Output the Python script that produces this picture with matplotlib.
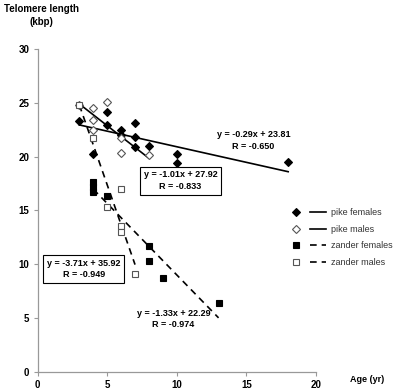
import matplotlib
matplotlib.use("Agg")
import matplotlib.pyplot as plt
from matplotlib.lines import Line2D
from matplotlib.legend_handler import HandlerTuple
import numpy as np

plt.rcParams['font.family'] = ['Liberation Sans Narrow', 'Liberation Sans', 'DejaVu Sans']

# --- data ---
pike_f_x = [3, 4, 5, 5, 6, 6, 7, 7, 7, 8, 10, 10, 18]
pike_f_y = [23.3, 20.2, 24.1, 22.9, 22.5, 22.0, 23.1, 21.8, 20.85, 21.0, 20.2, 19.4, 19.5]

pike_m_x = [3, 4, 4, 4, 5, 6, 6, 8]
pike_m_y = [24.8, 24.5, 23.4, 22.5, 25.1, 21.7, 20.35, 20.1]

zander_f_x = [4, 4, 4, 5, 8, 8, 9, 13]
zander_f_y = [17.6, 17.2, 16.7, 16.3, 11.7, 10.3, 8.7, 6.4]

zander_m_x = [3, 4, 5, 6, 6, 6, 7]
zander_m_y = [24.8, 21.7, 15.3, 17.0, 13.5, 13.0, 9.1]

# regression fits (slope, intercept, R) as printed on the chart
fits = {
    "pike females": (-0.29, 23.81, -0.650),
    "pike males": (-1.01, 27.92, -0.833),
    "zander females": (-1.33, 22.29, -0.974),
    "zander males": (-3.71, 35.92, -0.949),
}

x_ticks = [0, 5, 10, 15, 20]
y_ticks = [0, 5, 10, 15, 20, 25, 30]

groups = [
    ("pike females", pike_f_x, pike_f_y, "D", "black", "-"),
    ("pike males", pike_m_x, pike_m_y, "D", "white", "-"),
    ("zander females", zander_f_x, zander_f_y, "s", "black", (0, (4, 3))),
    ("zander males", zander_m_x, zander_m_y, "s", "white", (0, (4, 3))),
]

fig = plt.figure(figsize=(4.0, 3.92), dpi=100)
ax = fig.add_axes([0.094, 0.052, 0.696, 0.823])

handles = []
for name, xs, ys, mk, fc, ls in groups:
    edge = "black" if fc == "black" else "#555555"
    ms = 3.6 if mk == "D" else 4.6
    ax.plot(xs, ys, linestyle="none", marker=mk, markersize=ms,
            markerfacecolor=fc, markeredgecolor=edge, markeredgewidth=0.8, zorder=3)
    slope, icpt, _ = fits[name]
    lx = np.array([min(xs), max(xs)], dtype=float)
    ax.plot(lx, slope * lx + icpt, color="black", linewidth=1.2, linestyle=ls, zorder=2)
    m = Line2D([], [], linestyle="none", marker=mk, markersize=ms,
               markerfacecolor=fc, markeredgecolor=edge, markeredgewidth=0.8)
    ln = Line2D([], [], color="black", linewidth=1.2, linestyle=ls)
    handles.append((m, ln))


def eq_label(name):
    s, b, r = fits[name]
    return f"y = {s:.2f}x + {b:.2f}\nR = {r:.3f}"


box = dict(boxstyle="square,pad=0.4", facecolor="white", edgecolor="black", linewidth=0.8)
txt = dict(ha="center", va="center", fontsize=6.5, fontweight="bold", linespacing=1.4)
ax.text(15.5, 21.5, eq_label("pike females"), **txt)
ax.text(10.27, 17.75, eq_label("pike males"), bbox=box, zorder=5, **txt)
ax.text(3.32, 9.55, eq_label("zander males"), bbox=box, zorder=5, **txt)
ax.text(9.75, 4.9, eq_label("zander females"), zorder=5, **txt)

ax.set_xlim(0, 20)
ax.set_ylim(0, 30)
ax.set_xticks(x_ticks)
ax.set_yticks(y_ticks)
for sp in ("top", "right"):
    ax.spines[sp].set_visible(False)
for sp in ("left", "bottom"):
    ax.spines[sp].set_color("#999999")
    ax.spines[sp].set_linewidth(0.9)
ax.tick_params(direction="out", length=3, width=0.8, color="#999999",
               labelsize=7, pad=3)
for lab in ax.get_xticklabels() + ax.get_yticklabels():
    lab.set_fontweight("bold")

fig.text(0.103, 0.99, "Telomere length\n(kbp)", ha="center", va="top",
         fontsize=7, fontweight="bold", linespacing=1.35)
fig.text(0.917, 0.032, "Age (yr)", ha="center", va="center",
         fontsize=6.5, fontweight="bold")

fig.legend(handles, list(fits.keys()),
           handler_map={tuple: HandlerTuple(ndivide=None, pad=0.6)},
           loc="upper left", bbox_to_anchor=(0.70, 0.49), frameon=False,
           fontsize=6.5, handlelength=4.2, handletextpad=0.5, labelspacing=0.85,
           labelcolor="#333333")

fig.savefig("out.png", dpi=100)
plt.close(fig)
